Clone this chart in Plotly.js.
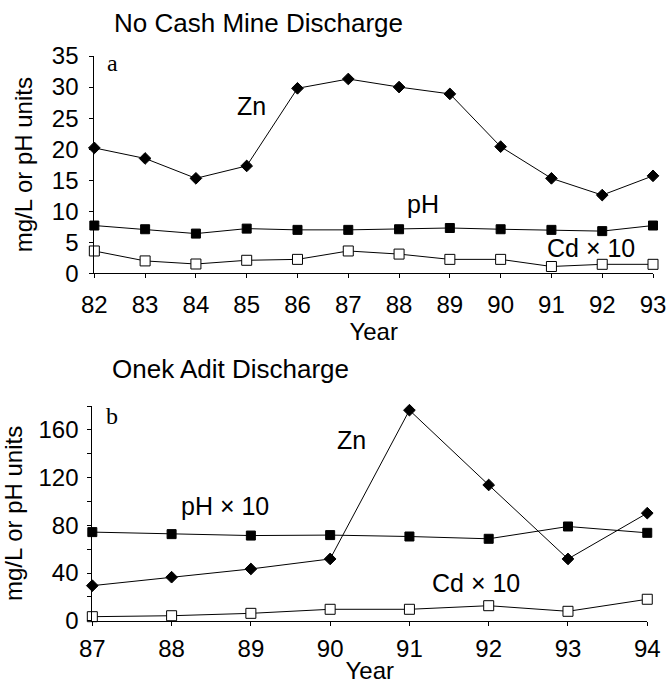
<!DOCTYPE html>
<html>
<head>
<meta charset="utf-8">
<script src="https://cdn.plot.ly/plotly-3.0.1.min.js"></script>
<style>html,body{margin:0;padding:0;background:#fff;}#chart{width:669px;height:684px;}</style>
</head>
<body>
<div id="chart"></div>
<script>
// Panel a: No Cash Mine Discharge
const yearsA = [82, 83, 84, 85, 86, 87, 88, 89, 90, 91, 92, 93];
const znA = [20.2, 18.5, 15.3, 17.3, 29.8, 31.3, 30.0, 28.9, 20.4, 15.3, 12.6, 15.7];
const phA = [7.7, 7.1, 6.4, 7.2, 7.0, 7.0, 7.1, 7.3, 7.1, 7.0, 6.8, 7.7];
const cdA = [3.6, 2.0, 1.5, 2.1, 2.25, 3.6, 3.1, 2.25, 2.25, 1.1, 1.45, 1.45];

// Panel b: Onek Adit Discharge
const yearsB = [87, 88, 89, 90, 91, 92, 93, 94];
const znB = [29.4, 36.5, 43.4, 51.8, 176.5, 113.8, 51.8, 90.2];
const phB = [74.3, 72.6, 71.4, 71.8, 70.6, 68.7, 79.0, 73.7];
const cdB = [3.4, 4.2, 6.2, 9.6, 9.6, 12.6, 7.9, 18.0];

const tickValsA = [0, 5, 10, 15, 20, 25, 30, 35];
const tickValsB = [0, 20, 40, 60, 80, 100, 120, 140, 160, 180];
const tickTextB = ['0', '', '40', '', '80', '', '120', '', '160', ''];

const FONT = 'Liberation Sans, Arial, sans-serif';
const SERIF = 'Liberation Serif, Times New Roman, serif';

function series(x, y, xa, ya, sym, size, fill) {
  return {
    x: x, y: y, xaxis: xa, yaxis: ya, type: 'scatter', mode: 'lines+markers',
    cliponaxis: false, showlegend: false, hoverinfo: 'skip',
    line: {color: '#000', width: 1},
    marker: {symbol: sym, size: size, color: fill, line: {color: '#000', width: 1}}
  };
}

const data = [
  series(yearsA, znA, 'x', 'y', 'diamond', 9, '#000'),
  series(yearsA, phA, 'x', 'y', 'square', 9, '#000'),
  series(yearsA, cdA, 'x', 'y', 'square', 10, '#fff'),
  series(yearsB, znB, 'x2', 'y2', 'diamond', 9, '#000'),
  series(yearsB, phB, 'x2', 'y2', 'square', 9, '#000'),
  series(yearsB, cdB, 'x2', 'y2', 'square', 10, '#fff')
];

const axBase = {
  showgrid: false, zeroline: false, showline: true, linecolor: '#000', linewidth: 1,
  ticks: 'outside', ticklen: 4, tickwidth: 1, tickcolor: '#000',
  tickfont: {family: FONT, size: 24, color: '#000'}
};
const innerTicks = {
  showgrid: false, zeroline: false, showline: false, showticklabels: false,
  ticks: 'inside', ticklen: 4, tickwidth: 1, tickcolor: '#000'
};

const layout = {
  width: 669, height: 684,
  margin: {l: 0, r: 0, t: 0, b: 0},
  paper_bgcolor: '#fff', plot_bgcolor: '#fff',
  font: {family: FONT, color: '#000'},
  xaxis: Object.assign({}, axBase, {
    domain: [0.1410, 0.9761], anchor: 'y', range: [82, 93],
    tickvals: yearsA, ticklabelstandoff: 6,
    title: {text: 'Year', font: {family: FONT, size: 24}, standoff: 4}
  }),
  yaxis: Object.assign({}, axBase, {
    domain: [0.6004, 0.9181], anchor: 'x', range: [0, 35],
    tickvals: tickValsA, ticklabelstandoff: 6,
    title: {text: 'mg/L or pH units', font: {family: FONT, size: 24}, standoff: 12}
  }),
  xaxis2: Object.assign({}, axBase, {
    domain: [0.1380, 0.9675], anchor: 'y2', range: [87, 94],
    tickvals: yearsB, ticklabelstandoff: 2,
    title: {text: 'Year', font: {family: FONT, size: 24}, standoff: 2}
  }),
  yaxis2: Object.assign({}, axBase, {
    domain: [0.0925, 0.4064], anchor: 'x2', range: [0, 180],
    tickvals: tickValsB, ticktext: tickTextB, ticklabelstandoff: 4,
    title: {text: 'mg/L or pH units', font: {family: FONT, size: 24}, standoff: 10}
  }),
  xaxis3: Object.assign({}, innerTicks, {overlaying: 'x', anchor: 'y', range: [82, 93], tickvals: yearsA}),
  yaxis3: Object.assign({}, innerTicks, {overlaying: 'y', anchor: 'x', range: [0, 35], tickvals: tickValsA}),
  xaxis4: Object.assign({}, innerTicks, {overlaying: 'x2', anchor: 'y2', range: [87, 94], tickvals: yearsB}),
  yaxis4: Object.assign({}, innerTicks, {overlaying: 'y2', anchor: 'x2', range: [0, 180], tickvals: tickValsB}),
  annotations: [
    {text: 'No Cash Mine Discharge', xref: 'paper', yref: 'paper', x: 112 / 669, y: 1 - 23 / 684,
     xanchor: 'left', yanchor: 'middle', showarrow: false, font: {family: FONT, size: 26}},
    {text: 'Onek Adit Discharge', xref: 'paper', yref: 'paper', x: 110 / 669, y: 1 - 369 / 684,
     xanchor: 'left', yanchor: 'middle', showarrow: false, font: {family: FONT, size: 26}},
    {text: 'a', xref: 'x', yref: 'y', x: 82.35, y: 33.9, showarrow: false, font: {family: SERIF, size: 24}},
    {text: 'Zn', xref: 'x', yref: 'y', x: 85.1, y: 26.9, showarrow: false, font: {family: FONT, size: 25}},
    {text: 'pH', xref: 'x', yref: 'y', x: 88.47, y: 11.2, showarrow: false, font: {family: FONT, size: 25}},
    {text: 'Cd × 10', xref: 'x', yref: 'y', x: 91.78, y: 4.07, showarrow: false, font: {family: FONT, size: 25}},
    {text: 'b', xref: 'x2', yref: 'y2', x: 87.25, y: 171.6, showarrow: false, font: {family: SERIF, size: 24}},
    {text: 'Zn', xref: 'x2', yref: 'y2', x: 90.27, y: 151.5, showarrow: false, font: {family: FONT, size: 25}},
    {text: 'pH × 10', xref: 'x2', yref: 'y2', x: 88.67, y: 96.1, showarrow: false, font: {family: FONT, size: 25}},
    {text: 'Cd × 10', xref: 'x2', yref: 'y2', x: 91.84, y: 31.6, showarrow: false, font: {family: FONT, size: 25}}
  ]
};

Plotly.newPlot('chart', data, layout, {staticPlot: true, displayModeBar: false});
</script>
</body>
</html>
